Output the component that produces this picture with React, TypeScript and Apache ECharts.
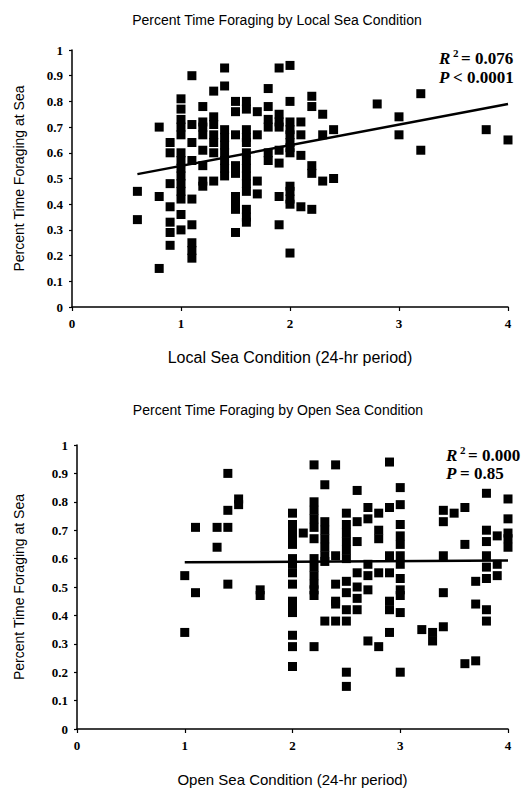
import React, { useEffect, useRef } from "react";
import * as echarts from "echarts";

// ---- Data ----
const localTitle = "Percent Time Foraging by Local Sea Condition";
const openTitle = "Percent Time Foraging by Open Sea Condition";
const yName = "Percent Time Foraging at Sea";
const localXName = "Local Sea Condition (24-hr period)";
const openXName = "Open Sea Condition (24-hr period)";

const xTicks = [0, 1, 2, 3, 4];
const yTicks = [0, 0.1, 0.2, 0.3, 0.4, 0.5, 0.6, 0.7, 0.8, 0.9, 1];

// Local sea condition: x columns and the foraging values at each column
const localX = [0.6, 0.8, 0.9, 1.0, 1.1, 1.2, 1.3, 1.4, 1.5, 1.6, 1.7, 1.8, 1.9, 2.0, 2.1, 2.2, 2.3, 2.4, 2.8, 3.0, 3.2, 3.8, 4.0];
const localY = [
  [0.45, 0.34],
  [0.70, 0.43, 0.15],
  [0.64, 0.60, 0.48, 0.39, 0.33, 0.29, 0.24],
  [0.81, 0.77, 0.73, 0.70, 0.67, 0.60, 0.57, 0.54, 0.51, 0.48, 0.45, 0.42, 0.36, 0.30],
  [0.90, 0.71, 0.64, 0.57, 0.42, 0.32, 0.25, 0.22, 0.19],
  [0.78, 0.72, 0.70, 0.67, 0.61, 0.55, 0.49, 0.47],
  [0.84, 0.74, 0.71, 0.67, 0.64, 0.60, 0.49],
  [0.93, 0.86, 0.69, 0.66, 0.63, 0.60, 0.57, 0.54, 0.51],
  [0.80, 0.76, 0.67, 0.55, 0.52, 0.43, 0.40, 0.38, 0.29],
  [0.80, 0.77, 0.69, 0.66, 0.64, 0.60, 0.57, 0.54, 0.51, 0.48, 0.45, 0.38, 0.35, 0.33],
  [0.76, 0.67, 0.49, 0.44],
  [0.85, 0.78, 0.73, 0.70, 0.60, 0.57],
  [0.93, 0.75, 0.72, 0.70, 0.61, 0.56, 0.43, 0.32],
  [0.94, 0.80, 0.72, 0.69, 0.67, 0.64, 0.62, 0.60, 0.47, 0.45, 0.42, 0.40, 0.21],
  [0.72, 0.67, 0.59, 0.39],
  [0.82, 0.78, 0.55, 0.52, 0.38],
  [0.75, 0.67, 0.49],
  [0.69, 0.50],
  [0.79],
  [0.74, 0.67],
  [0.83, 0.61],
  [0.69],
  [0.65],
];
const localFit = [
  [0.6, 0.517],
  [4.0, 0.79],
];

// Open sea condition
const openX = [1.0, 1.1, 1.3, 1.4, 1.5, 1.7, 2.0, 2.1, 2.2, 2.3, 2.4, 2.5, 2.6, 2.7, 2.8, 2.9, 3.0, 3.2, 3.3, 3.4, 3.5, 3.6, 3.7, 3.8, 3.9, 4.0];
const openY = [
  [0.54, 0.34],
  [0.71, 0.48],
  [0.71, 0.64],
  [0.90, 0.77, 0.71, 0.51],
  [0.81, 0.79],
  [0.49, 0.47],
  [0.76, 0.72, 0.70, 0.68, 0.65, 0.60, 0.58, 0.55, 0.51, 0.45, 0.43, 0.41, 0.33, 0.29, 0.22],
  [0.69],
  [0.93, 0.80, 0.77, 0.74, 0.71, 0.67, 0.60, 0.57, 0.54, 0.51, 0.49, 0.47, 0.29],
  [0.86, 0.73, 0.70, 0.67, 0.64, 0.61, 0.59, 0.38],
  [0.93, 0.61, 0.51, 0.45, 0.44, 0.38],
  [0.76, 0.72, 0.69, 0.66, 0.63, 0.60, 0.52, 0.48, 0.42, 0.38, 0.20, 0.15],
  [0.84, 0.73, 0.66, 0.55, 0.50, 0.46, 0.42],
  [0.78, 0.74, 0.58, 0.54, 0.49, 0.31],
  [0.76, 0.70, 0.67, 0.55, 0.29],
  [0.94, 0.78, 0.61, 0.55, 0.45, 0.42, 0.34],
  [0.85, 0.79, 0.72, 0.68, 0.65, 0.61, 0.58, 0.53, 0.49, 0.47, 0.41, 0.20],
  [0.35],
  [0.34, 0.31],
  [0.77, 0.73, 0.61, 0.48, 0.36],
  [0.76],
  [0.78, 0.65, 0.23],
  [0.52, 0.44, 0.24],
  [0.83, 0.70, 0.66, 0.61, 0.57, 0.53, 0.42, 0.38],
  [0.68, 0.58, 0.54],
  [0.81, 0.74, 0.69, 0.67, 0.64],
];
const openFit = [
  [1.0, 0.587],
  [4.0, 0.593],
];

const localStats = ["0.076", "< 0.0001"];
const openStats = ["0.000", "= 0.85"];

// ---- Helpers ----
function toPoints(xs: number[], ys: number[][]) {
  const out: number[][] = [];
  xs.forEach((x, i) => ys[i].forEach((y) => out.push([x, y])));
  return out;
}

const SANS = "'Liberation Sans', Arial, sans-serif";
const SERIF = "'Liberation Serif', 'Times New Roman', serif";

function xAxisCfg(gridIndex: number, name: string, nameGap: number, nameSize: number) {
  return {
    type: "value",
    gridIndex,
    min: xTicks[0],
    max: xTicks[xTicks.length - 1],
    interval: 1,
    name,
    nameLocation: "middle",
    nameGap,
    nameTextStyle: { fontFamily: SANS, fontSize: nameSize, color: "#000" },
    axisLine: { show: true, onZero: false, lineStyle: { color: "#000", width: 1.5 } },
    axisTick: { show: true, inside: false, length: 4, lineStyle: { color: "#000", width: 1.2 } },
    axisLabel: { fontFamily: SERIF, fontWeight: "bold", fontSize: 13, color: "#000", margin: 10 },
    splitLine: { show: false },
  };
}

function yAxisCfg(gridIndex: number, nameGap: number) {
  return {
    type: "value",
    gridIndex,
    min: yTicks[0],
    max: yTicks[yTicks.length - 1],
    interval: 0.1,
    name: yName,
    nameLocation: "middle",
    nameGap,
    nameTextStyle: { fontFamily: SANS, fontSize: 14, color: "#000" },
    axisLine: { show: true, lineStyle: { color: "#000", width: 1.5 } },
    axisTick: { show: true, inside: false, length: 3, lineStyle: { color: "#000", width: 1.2 } },
    axisLabel: {
      fontFamily: SERIF,
      fontWeight: "bold",
      fontSize: 13,
      color: "#000",
      margin: 9,
      formatter: (v: number) => (v === 0 ? "0" : v === 1 ? "1" : v.toFixed(1)),
    },
    splitLine: { show: false },
  };
}

function statText(x: number, yR: number, yP: number, r2: string, p: string) {
  const base = { fontFamily: SERIF, fontWeight: "bold", fill: "#000" };
  return [
    { type: "text", x, y: yR, style: { ...base, text: "R", fontStyle: "italic", fontSize: 17, verticalAlign: "middle" } },
    { type: "text", x: x + 14, y: yR - 5, style: { ...base, text: "2", fontSize: 11, verticalAlign: "middle" } },
    { type: "text", x: x + 22, y: yR, style: { ...base, text: "= " + r2, fontSize: 17, verticalAlign: "middle" } },
    { type: "text", x, y: yP, style: { ...base, text: "P", fontStyle: "italic", fontSize: 17, verticalAlign: "middle" } },
    { type: "text", x: x + 14, y: yP, style: { ...base, text: p, fontSize: 17, verticalAlign: "middle" } },
  ];
}

export default function App() {
  const ref = useRef<HTMLDivElement>(null);

  useEffect(() => {
    if (!ref.current) return;
    const chart = echarts.init(ref.current, null, { renderer: "svg" });

    const option: any = {
      animation: false,
      backgroundColor: "#fff",
      title: [
        {
          text: localTitle,
          left: 272,
          top: 8,
          textAlign: "center",
          textStyle: { fontFamily: SANS, fontSize: 14, fontWeight: "normal", color: "#000" },
        },
        {
          text: openTitle,
          left: 273,
          top: 398,
          textAlign: "center",
          textStyle: { fontFamily: SANS, fontSize: 14, fontWeight: "normal", color: "#000" },
        },
      ],
      grid: [
        { left: 72, top: 50, width: 436, height: 257, containLabel: false },
        { left: 77, top: 445, width: 431, height: 284, containLabel: false },
      ],
      xAxis: [xAxisCfg(0, localXName, 42, 16), xAxisCfg(1, openXName, 43, 15)],
      yAxis: [yAxisCfg(0, 46), yAxisCfg(1, 51)],
      series: [
        {
          type: "scatter",
          xAxisIndex: 0,
          yAxisIndex: 0,
          symbol: "rect",
          symbolSize: 9,
          itemStyle: { color: "#000", opacity: 1 },
          data: toPoints(localX, localY),
        },
        {
          type: "line",
          xAxisIndex: 0,
          yAxisIndex: 0,
          showSymbol: false,
          symbol: "none",
          lineStyle: { color: "#000", width: 2.5 },
          data: localFit,
        },
        {
          type: "scatter",
          xAxisIndex: 1,
          yAxisIndex: 1,
          symbol: "rect",
          symbolSize: 9,
          itemStyle: { color: "#000", opacity: 1 },
          data: toPoints(openX, openY),
        },
        {
          type: "line",
          xAxisIndex: 1,
          yAxisIndex: 1,
          showSymbol: false,
          symbol: "none",
          lineStyle: { color: "#000", width: 2.5 },
          data: openFit,
        },
      ],
      graphic: [
        ...statText(439, 58, 77, localStats[0], localStats[1]),
        ...statText(446, 455, 473, openStats[0], openStats[1]),
      ],
    };

    chart.setOption(option);
    return () => chart.dispose();
  }, []);

  return (
    <div
      ref={ref}
      style={{ position: "fixed", left: 0, top: 0, width: 526, height: 792, background: "#fff" }}
    />
  );
}
